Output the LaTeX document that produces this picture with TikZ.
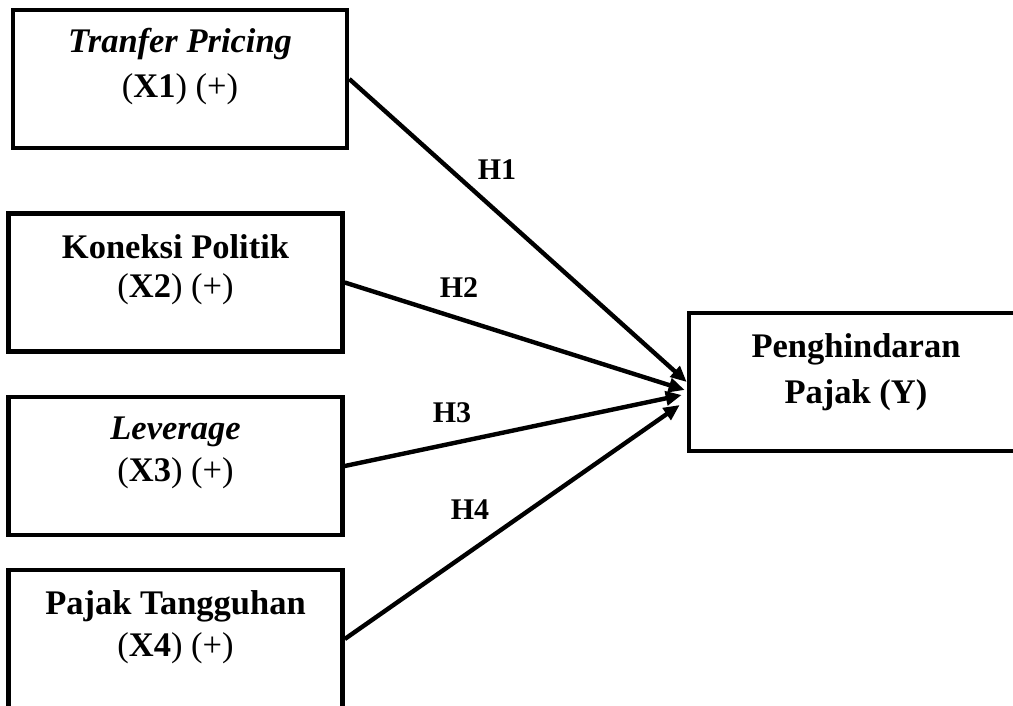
\documentclass[tikz,border=0pt]{standalone}
\usepackage{fontspec}
\setmainfont{Liberation Serif}
\usetikzlibrary{arrows.meta,calc}
\begin{document}
\begin{tikzpicture}[x=1pt,y=-1pt,
  box/.style={draw,line width=4.6pt,minimum width=334pt,minimum height=138pt,inner sep=0pt},
  txt/.style={anchor=base,inner sep=0pt,font=\fontsize{34.5}{40}\selectfont},
  hyp/.style={inner sep=0pt,font=\fontsize{30}{34}\selectfont\bfseries},
  arr/.style={line width=4.4pt,-{Triangle[length=16pt,width=14pt]}}]
\useasboundingbox (0,0) rectangle (1013,706);
\clip (0,0) rectangle (1013,706);
% boxes
\node[box] (x1) at (180,79) {};
\node[box] (x2) at (175.5,282.5) {};
\node[box] (x3) at (175.5,466) {};
\node[box] (x4) at (175.5,639) {};
\node[box] (y) at (856,382) {};
% texts
\node[txt] (t1a) at ($(x1.north)+(0,45)$) {\textbf{\textit{Tranfer Pricing}}};
\node[txt] (t1b) at ($(x1.north)+(0,90)$) {(\textbf{X1}) (+)};
\node[txt] (t2a) at ($(x2.north)+(0,47)$) {\textbf{Koneksi Politik}};
\node[txt] (t2b) at ($(x2.north)+(0,86)$) {(\textbf{X2}) (+)};
\node[txt] (t3a) at ($(x3.north)+(0,45)$) {\textbf{\textit{Leverage}}};
\node[txt] (t3b) at ($(x3.north)+(0,87)$) {(\textbf{X3}) (+)};
\node[txt] (t4a) at ($(x4.north)+(0,47)$) {\textbf{Pajak Tangguhan}};
\node[txt] (t4b) at ($(x4.north)+(0,89)$) {(\textbf{X4}) (+)};
\node[txt] (tya) at ($(y.north)+(0,47)$) {\textbf{Penghindaran}};
\node[txt] (tyb) at ($(y.north)+(0,93)$) {\textbf{Pajak (Y)}};
% arrow ends
\coordinate (e1) at ($(y.west)+(0,0)$);
\coordinate (e2) at ($(y.west)+(-2,8)$);
\coordinate (e3) at ($(y.west)+(-5,13)$);
\coordinate (e4) at ($(y.west)+(-7,23)$);
\draw[arr] (x1.east) -- (e1);
\draw[arr] (x2.east) -- (e2);
\draw[arr] (x3.east) -- (e3);
\draw[arr] (x4.east) -- (e4);
% labels
\node[hyp] (h1) at (497,170) {H1};
\node[hyp] (h2) at (459,288) {H2};
\node[hyp] (h3) at (452,413) {H3};
\node[hyp] (h4) at (470,510) {H4};
\end{tikzpicture}
\end{document}
